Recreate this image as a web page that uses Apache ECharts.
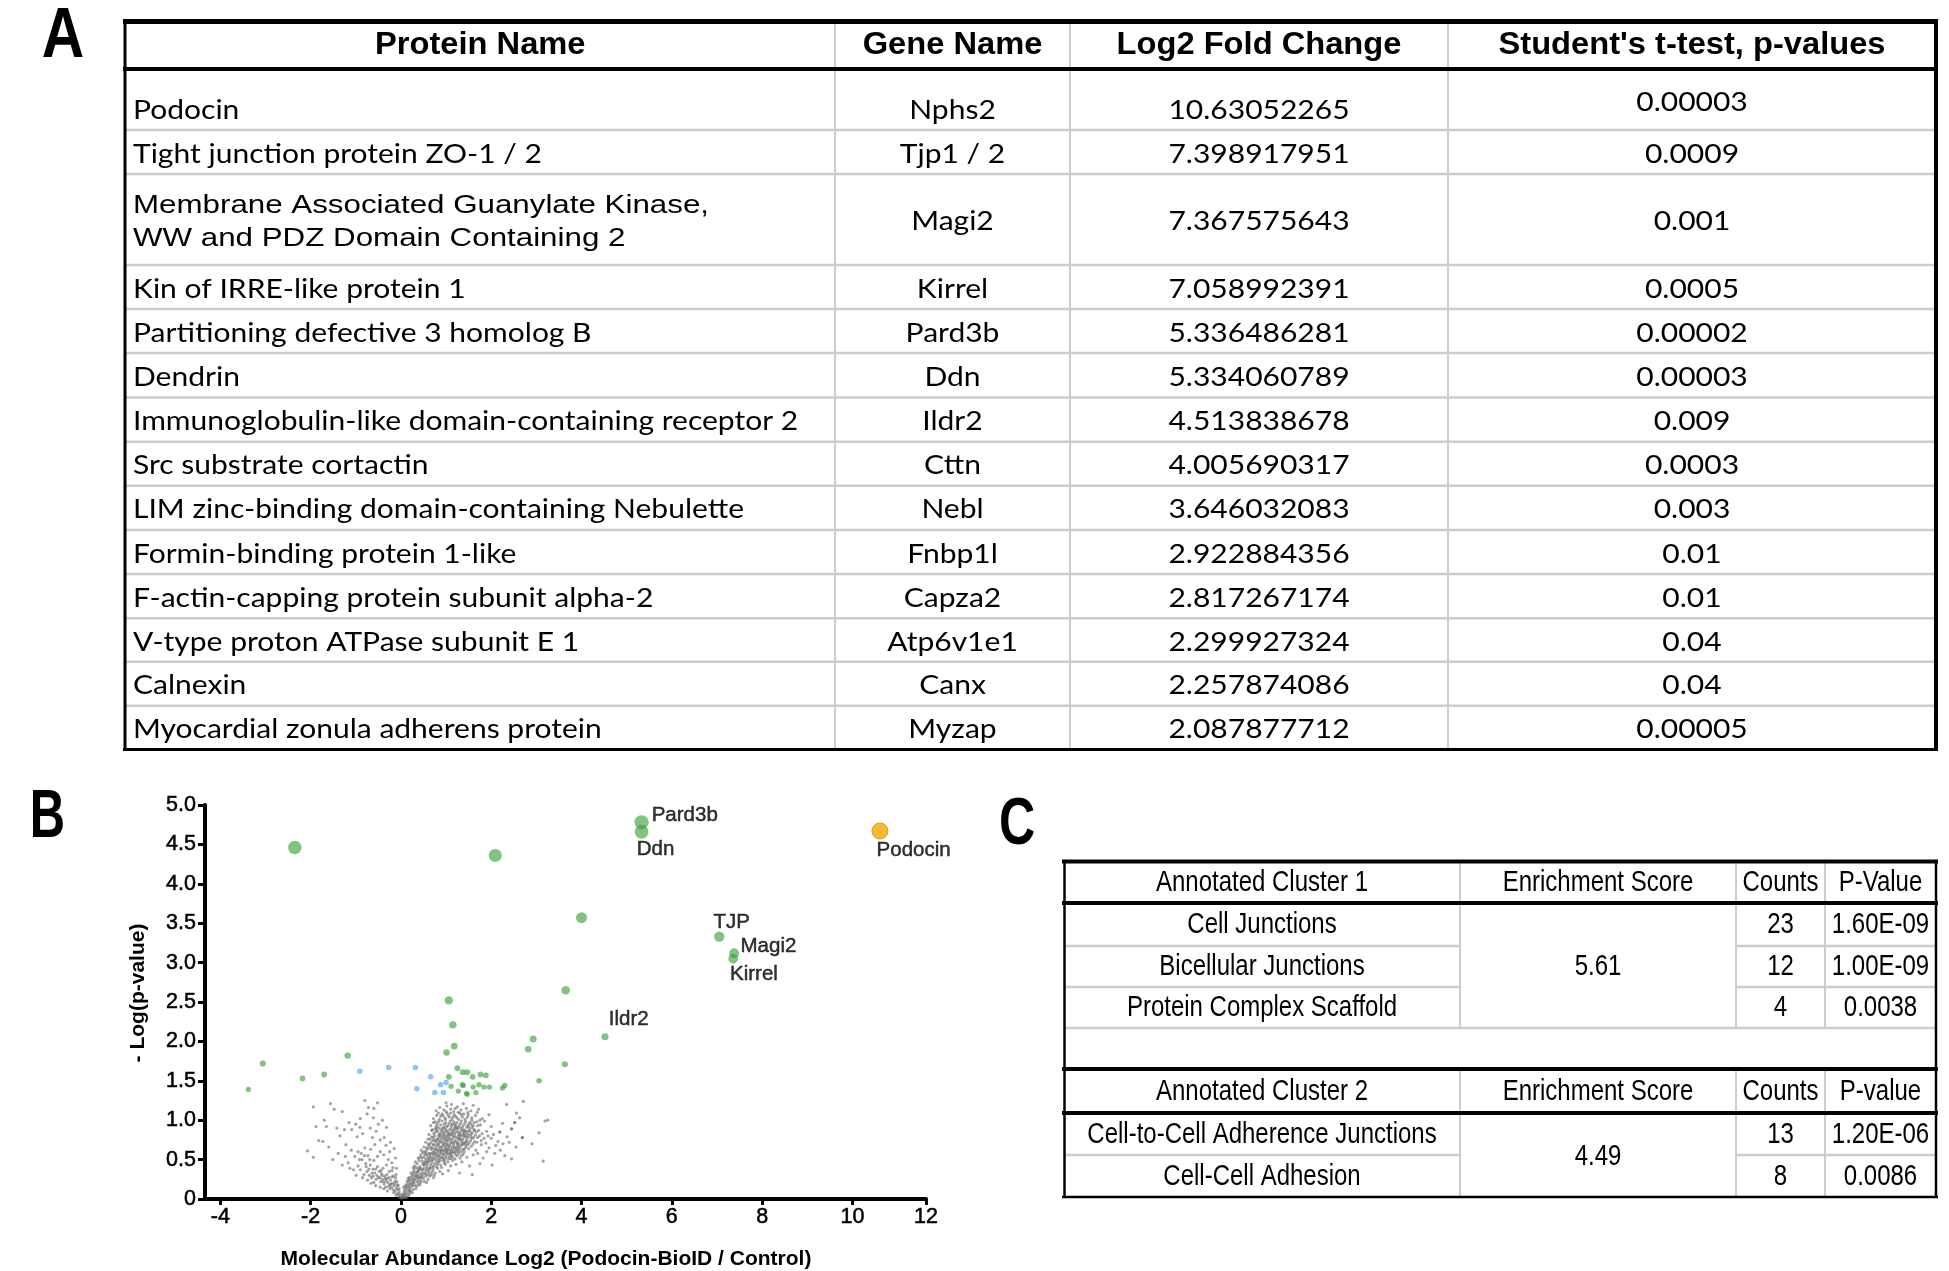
<!DOCTYPE html>
<html>
<head>
<meta charset="utf-8">
<script src="https://cdn.jsdelivr.net/npm/echarts@6/dist/echarts.min.js"></script>
<style>
  html, body { margin: 0; padding: 0; background: #fff; }
  #main { width: 1949px; height: 1271px; }
</style>
</head>
<body>
<div id="main"></div>
<script>
// ---- panel A : table data ----
const proteinNames = [
  'Podocin',
  'Tight junction protein ZO-1 / 2',
  'Membrane Associated Guanylate Kinase,\nWW and PDZ Domain Containing 2',
  'Kin of IRRE-like protein 1',
  'Partitioning defective 3 homolog B',
  'Dendrin',
  'Immunoglobulin-like domain-containing receptor 2',
  'Src substrate cortactin',
  'LIM zinc-binding domain-containing Nebulette',
  'Formin-binding protein 1-like',
  'F-actin-capping protein subunit alpha-2',
  'V-type proton ATPase subunit E 1',
  'Calnexin',
  'Myocardial zonula adherens protein'
];
const geneNames = ['Nphs2', 'Tjp1 / 2', 'Magi2', 'Kirrel', 'Pard3b', 'Ddn', 'Ildr2', 'Cttn', 'Nebl', 'Fnbp1l', 'Capza2', 'Atp6v1e1', 'Canx', 'Myzap'];
const foldChanges = ['10.63052265', '7.398917951', '7.367575643', '7.058992391', '5.336486281', '5.334060789', '4.513838678',
  '4.005690317', '3.646032083', '2.922884356', '2.817267174', '2.299927324', '2.257874086', '2.087877712'];
const pValues = ['0.00003', '0.0009', '0.001', '0.0005', '0.00002', '0.00003', '0.009', '0.0003', '0.003', '0.01', '0.01', '0.04', '0.04', '0.00005'];
const headerA = ['Protein Name', 'Gene Name', 'Log2 Fold Change', "Student's t-test, p-values"];

// ---- panel B : volcano plot data [log2 fold change, -log p] ----
const labelledNames = ['Pard3b', 'Ddn', 'TJP', 'Magi2', 'Kirrel', 'Ildr2'];
const labelledPts = [[5.33, 4.78], [5.33, 4.66], [7.05, 3.33], [7.38, 3.12], [7.36, 3.05], [4.52, 2.06]];
const podocinPt = [10.61, 4.67];
const greenPts = [
  [-2.35, 4.46], [2.09, 4.36], [4.0, 3.57], [3.65, 2.65], [-3.06, 1.72], [-3.38, 1.39], [-2.18, 1.53], [-1.70, 1.58],
  [-1.18, 1.82], [1.06, 2.52], [1.15, 2.21], [1.18, 1.94], [1.01, 1.86], [2.82, 1.90], [2.93, 2.03], [3.63, 1.71],
  [3.06, 1.50], [1.25, 1.66], [1.37, 1.61], [1.47, 1.61], [1.59, 1.55], [1.76, 1.58], [1.88, 1.57], [1.06, 1.55],
  [1.11, 1.43], [1.38, 1.44], [1.36, 1.45], [1.60, 1.42], [1.73, 1.45], [1.84, 1.42], [1.96, 1.42], [1.27, 1.37],
  [1.45, 1.34], [1.47, 1.33], [1.66, 1.35], [2.25, 1.41], [2.30, 1.44]
];
const bluePts = [[-0.91, 1.62], [-0.27, 1.67], [0.32, 1.67], [0.66, 1.55], [0.35, 1.40], [0.88, 1.45], [1.00, 1.48], [0.75, 1.35], [0.94, 1.35]];
const grayPts = [
  // right arm
  [0.02,0.01],[0.05,0.03],[0.08,0.02],[0.03,0.06],[0.11,0.05],[0.14,0.08],[0.07,0.09],[0.18,0.06],[0.12,0.02],[0.21,0.09],[0.16,0.04],[0.09,0.07],[0.25,0.08],[0.04,0.04],[0.19,0.1],[0.01,0.03],[0.06,0.05],
  [0.08,0.12],[0.13,0.14],[0.18,0.13],[0.22,0.15],[0.27,0.12],[0.31,0.17],[0.11,0.18],[0.16,0.19],[0.24,0.19],[0.35,0.16],[0.29,0.2],[0.2,0.11],[0.38,0.19],[0.42,0.18],[0.15,0.16],[0.26,0.17],[0.33,0.13],[0.06,0.15],[0.19,0.17],
  [0.14,0.22],[0.2,0.24],[0.26,0.21],[0.31,0.25],[0.36,0.22],[0.41,0.27],[0.45,0.23],[0.5,0.26],[0.55,0.29],[0.23,0.28],[0.33,0.29],[0.39,0.24],[0.47,0.28],[0.29,0.23],[0.6,0.25],[0.18,0.27],[0.43,0.21],[0.52,0.22],[0.64,0.29],[0.37,0.27],[0.27,0.26],[0.72,0.27],[0.57,0.21],
  [0.22,0.33],[0.28,0.36],[0.34,0.31],[0.39,0.35],[0.44,0.32],[0.49,0.37],[0.53,0.33],[0.58,0.38],[0.62,0.34],[0.67,0.31],[0.71,0.37],[0.76,0.33],[0.81,0.39],[0.86,0.35],[0.31,0.39],[0.41,0.38],[0.47,0.3],[0.56,0.36],[0.65,0.39],[0.74,0.3],[0.92,0.32],[0.6,0.31],[0.37,0.34],[0.51,0.39],[0.69,0.34],[1.05,0.36],[1.3,0.33],[1.58,0.31],
  [0.3,0.42],[0.36,0.45],[0.42,0.41],[0.47,0.48],[0.52,0.44],[0.57,0.41],[0.61,0.47],[0.66,0.43],[0.7,0.49],[0.75,0.45],[0.79,0.41],[0.84,0.47],[0.88,0.43],[0.93,0.49],[0.98,0.44],[1.04,0.47],[1.1,0.42],[0.4,0.49],[0.55,0.48],[0.64,0.4],[0.72,0.42],[0.81,0.44],[0.9,0.4],[0.96,0.46],[1.15,0.49],[1.22,0.44],[0.5,0.43],[0.68,0.46],[0.86,0.49],[1.35,0.47],[1.52,0.42],[1.75,0.45],[2.02,0.43],[2.45,0.51],
  [0.38,0.52],[0.44,0.56],[0.5,0.53],[0.55,0.58],[0.6,0.51],[0.65,0.57],[0.69,0.53],[0.74,0.59],[0.78,0.54],[0.83,0.51],[0.87,0.57],[0.91,0.53],[0.96,0.59],[1.0,0.55],[1.05,0.51],[1.09,0.57],[1.14,0.53],[1.19,0.59],[1.25,0.55],[1.31,0.52],[0.58,0.55],[0.72,0.56],[0.85,0.54],[0.94,0.52],[1.02,0.58],[1.12,0.55],[1.2,0.51],[0.48,0.59],[0.64,0.54],[0.8,0.58],[1.38,0.57],[1.46,0.53],[1.6,0.56],[1.82,0.52],[2.08,0.58],[2.3,0.55],[0.99,0.52],[1.28,0.58],
  [0.45,0.62],[0.51,0.66],[0.56,0.61],[0.62,0.68],[0.67,0.63],[0.72,0.69],[0.76,0.64],[0.81,0.61],[0.85,0.67],[0.9,0.62],[0.94,0.68],[0.99,0.64],[1.03,0.61],[1.08,0.67],[1.13,0.63],[1.17,0.69],[1.22,0.65],[1.27,0.61],[1.32,0.67],[1.37,0.63],[1.43,0.69],[1.5,0.64],[0.7,0.65],[0.88,0.65],[1.0,0.69],[1.11,0.6],[1.25,0.68],[1.4,0.6],[0.6,0.64],[0.79,0.67],[0.97,0.62],[1.19,0.63],[1.56,0.67],[1.66,0.62],[1.78,0.69],[1.95,0.65],[2.2,0.62],[2.55,0.66],[1.06,0.65],[1.3,0.64],
  [0.55,0.72],[0.6,0.76],[0.66,0.71],[0.71,0.78],[0.77,0.73],[0.82,0.77],[0.87,0.72],[0.92,0.79],[0.97,0.74],[1.02,0.71],[1.06,0.77],[1.11,0.73],[1.16,0.79],[1.2,0.74],[1.25,0.71],[1.3,0.77],[1.35,0.73],[1.4,0.79],[1.45,0.75],[1.51,0.71],[1.57,0.77],[1.63,0.73],[1.7,0.78],[0.74,0.75],[0.89,0.76],[1.04,0.74],[1.14,0.76],[1.28,0.75],[1.42,0.72],[1.6,0.7],[0.8,0.7],[0.95,0.77],[1.22,0.78],[1.37,0.76],[1.78,0.74],[1.88,0.71],[2.0,0.77],[2.15,0.73],[2.35,0.79],[2.69,0.78],[1.09,0.7],[1.48,0.78],
  [0.62,0.82],[0.68,0.87],[0.73,0.83],[0.79,0.88],[0.84,0.81],[0.9,0.86],[0.95,0.82],[1.0,0.88],[1.05,0.84],[1.1,0.81],[1.15,0.87],[1.2,0.83],[1.26,0.89],[1.31,0.84],[1.36,0.81],[1.41,0.87],[1.46,0.83],[1.52,0.89],[1.58,0.84],[1.65,0.81],[1.72,0.87],[1.8,0.83],[0.87,0.89],[1.03,0.81],[1.13,0.85],[1.23,0.86],[1.39,0.85],[1.55,0.82],[0.77,0.85],[0.98,0.85],[1.29,0.82],[1.49,0.86],[1.62,0.88],[1.9,0.86],[2.05,0.82],[2.19,0.85],[2.45,0.89],[3.06,0.84],[1.18,0.88],[0.93,0.84],
  [0.66,0.93],[0.72,0.97],[0.78,0.92],[0.83,0.98],[0.88,0.94],[0.94,0.91],[0.99,0.97],[1.04,0.93],[1.09,0.99],[1.14,0.95],[1.19,0.91],[1.24,0.97],[1.29,0.93],[1.34,0.99],[1.4,0.95],[1.46,0.91],[1.52,0.97],[1.6,0.93],[1.68,0.98],[0.91,0.99],[1.07,0.96],[1.21,0.93],[1.37,0.92],[1.55,0.95],[0.8,0.95],[1.01,0.92],[1.17,0.98],[1.32,0.96],[1.76,0.94],[1.85,0.99],[2.0,0.92],[2.25,0.96],[2.52,0.97],[3.19,0.99],[3.25,1.0],
  [0.72,1.02],[0.79,1.06],[0.85,1.01],[0.91,1.08],[0.97,1.03],[1.02,1.09],[1.07,1.04],[1.13,1.01],[1.18,1.07],[1.24,1.03],[1.3,1.09],[1.36,1.04],[1.42,1.01],[1.49,1.07],[1.57,1.03],[1.65,1.06],[0.88,1.05],[1.05,1.06],[1.21,1.05],[1.39,1.08],[1.8,1.02],[1.95,1.07],[2.56,1.09],[2.63,1.03],
  [0.78,1.12],[0.86,1.16],[0.95,1.13],[1.02,1.18],[1.1,1.14],[1.17,1.11],[1.25,1.17],[1.33,1.13],[1.45,1.15],[1.55,1.12],[1.0,1.22],[1.12,1.2],[1.38,1.21],[1.6,1.19],[2.34,1.2],[2.71,1.24],[1.72,1.14],
  [0.63,0.49],[0.77,0.5],[0.92,0.57],[1.07,0.54],[1.16,0.6],[0.84,0.63],[0.99,0.66],[1.14,0.66],[1.29,0.7],[1.44,0.66],[0.7,0.74],[0.85,0.79],[1.0,0.78],[1.12,0.82],[1.27,0.8],[1.42,0.81],[1.55,0.79],[0.82,0.91],[0.96,0.95],[1.11,0.9],[1.26,0.91],[1.43,0.98],[0.75,0.8],[0.9,0.73],[1.33,0.75],[1.48,0.69],[1.08,0.88],[1.2,0.95],[0.67,0.58],[0.53,0.46],[0.46,0.37],[0.35,0.28],[0.58,0.44],[0.74,0.52],[0.89,0.6],[1.03,0.63],[1.17,0.72],[1.34,0.87],[1.5,0.92],[0.96,0.71],[0.83,0.7],[1.25,0.63],[1.4,0.71],[0.61,0.7],[0.57,0.65],[0.52,0.6],[0.42,0.53],[0.32,0.47],[0.27,0.4],[0.25,0.31],[0.16,0.26],[1.63,0.87],[1.7,0.93],[1.57,1.0],[1.47,1.04],[1.28,1.01],[1.15,1.04],[0.99,1.01],[0.76,0.98],
  [3.15,0.48],[2.69,0.78],[2.45,0.89],[2.19,0.85],[2.52,0.97],
  [0.58,0.47],[0.63,0.52],[0.69,0.5],[0.73,0.61],[0.78,0.63],[0.82,0.55],[0.86,0.6],[0.91,0.66],[0.95,0.56],[1.01,0.6],[1.04,0.68],[1.09,0.62],[1.13,0.58],[1.18,0.66],[1.23,0.6],[1.27,0.66],[1.33,0.6],[1.36,0.69],[1.41,0.64],[1.46,0.73],
  [0.68,0.79],[0.73,0.69],[0.79,0.75],[0.84,0.74],[0.88,0.81],[0.93,0.7],[0.97,0.8],[1.01,0.75],[1.05,0.8],[1.09,0.76],[1.13,0.71],[1.18,0.8],[1.23,0.72],[1.27,0.77],[1.32,0.8],[1.36,0.7],[1.39,0.83],[1.44,0.79],[1.5,0.81],[1.54,0.74],
  [0.76,0.89],[0.81,0.86],[0.86,0.83],[0.92,0.88],[0.96,0.9],[1.02,0.86],[1.07,0.83],[1.12,0.93],[1.16,0.84],[1.22,0.9],[1.27,0.85],[1.33,0.9],[1.38,0.88],[1.44,0.86],[1.48,0.94],[1.53,0.86],[1.58,0.91],[1.67,0.85],
  [0.49,0.45],[0.55,0.51],[0.61,0.58],[0.66,0.66],[0.43,0.39],[0.38,0.37],[0.33,0.34],[0.29,0.29],[0.21,0.2],[0.24,0.24],[0.12,0.11],[0.1,0.16],[0.17,0.23],[0.28,0.33],[0.53,0.56],[0.71,0.59],[0.76,0.57],[0.88,0.52],[0.93,0.62],[1.06,0.58],
  [1.21,0.56],[1.34,0.55],[1.1,0.51],[0.97,0.49],[0.8,0.47],[0.71,0.4],[0.62,0.37],[0.55,0.32],[0.44,0.27],[0.48,0.33],[0.39,0.3],[1.0,1.11],[0.93,1.06],[1.1,1.09],[1.27,1.1],[1.34,1.07],[1.2,1.15],[0.83,1.09],[0.7,0.88],[0.64,0.76],
  [1.61,0.78],[1.68,0.72],[1.74,0.8],[1.84,0.77],[1.93,0.8],[2.1,0.68],[2.26,0.7],[1.7,0.58],[1.9,0.6],[2.4,0.72],[2.9,0.7],[0.46,0.52],[0.36,0.4],[1.62,0.97],[1.75,1.0],[1.48,1.1],[1.69,1.1],
  // left arm
  [-0.02,0.02],[-0.05,0.04],[-0.08,0.07],[-0.04,0.09],[-0.11,0.05],[-0.13,0.1],[-0.17,0.12],[-0.1,0.14],[-0.21,0.15],[-0.15,0.17],[-0.25,0.18],[-0.19,0.2],[-0.29,0.21],[-0.23,0.24],[-0.33,0.23],[-0.37,0.19],[-0.27,0.27],[-0.41,0.25],[-0.45,0.22],[-0.36,0.29],[-0.5,0.27],[-0.31,0.31],[-0.43,0.32],[-0.55,0.25],[-0.6,0.21],[-0.65,0.27],[-0.48,0.35],[-0.58,0.33],[-0.7,0.3],[-0.52,0.41],[-0.62,0.38],[-0.75,0.35],[-0.82,0.31],[-0.68,0.43],[-0.9,0.37],[-0.78,0.45],[-0.95,0.42],[-0.86,0.5],[-1.02,0.54],[-0.92,0.5],[-1.13,0.39],[-1.23,0.54],[-1.05,0.37],[-0.74,0.24],[-0.66,0.2],[-0.56,0.17],[-0.46,0.15],[-0.38,0.13],[-0.3,0.1],[-0.07,0.12],[-0.14,0.2],[-0.2,0.28],[-0.26,0.35],[-0.18,0.4],[-0.32,0.43],[-0.4,0.39],[-0.15,0.64],[-0.1,0.39],[-0.17,0.29],[-0.28,0.5],[-0.38,0.56],[-0.46,0.6],[-0.58,0.69],[-0.46,0.75],[-0.67,0.63],[-0.8,0.65],[-0.37,0.78],[-0.32,0.91],[-0.41,1.0],[-0.61,1.03],[-0.52,1.22],[-0.75,1.08],[-0.72,1.16],[-0.8,1.25],[-0.91,0.91],[-0.97,0.79],[-1.0,0.95],[-1.09,0.88],[-1.22,0.69],[-1.3,1.11],[-1.48,1.14],[-1.56,1.21],[-1.65,0.92],[-1.73,0.73],[-1.82,0.74],[-1.94,1.17],[-2.07,0.61],[-1.94,0.53],[-1.51,0.5],[-1.39,0.58],
  [-1.1,0.62],[-0.88,0.58],[-0.73,0.55],[-0.6,0.49],[-1.35,0.8],[-1.6,0.66],[-0.55,0.86],[-0.25,0.6],[-0.23,0.72],[-0.63,0.78],[-0.9,1.02],[-1.15,0.97],[-1.42,0.9],[-0.2,0.46],[-0.12,0.52],[-0.99,0.3],[-0.85,0.27],[-0.34,0.15],
  [-0.06,0.17],[-0.09,0.22],[-0.12,0.27],[-0.24,0.13],[-0.16,0.08],[-0.03,0.06],[-0.35,0.26],[-0.42,0.3],[-0.53,0.3],[-0.62,0.29],[-0.71,0.38],
  [-0.04,0.13],[-0.08,0.18],[-0.13,0.23],[-0.22,0.19],[-0.28,0.16],[-0.31,0.26],[-0.39,0.22],[-0.47,0.27],[-0.44,0.36],[-0.56,0.38],[-0.64,0.33],[-0.77,0.41],[-0.69,0.5],[-0.81,0.55],[-0.95,0.6],[-1.17,0.46],[-1.3,0.43],[-0.52,0.54],[-0.33,0.68],[-0.5,0.95],[-0.68,0.9],[-0.85,0.83],[-1.25,0.88],[-1.7,1.0],[-1.88,0.92],[-0.11,0.31],[-0.2,0.36],[-0.6,1.15]
];
const xTickPos = [-4, -2, 0, 2, 4, 6, 8, 10, 11.63];
const xTickLabels = ['-4', '-2', '0', '2', '4', '6', '8', '10', '12'];

// ---- panel C : enrichment clusters ----
const cluster1Terms = ['Cell Junctions', 'Bicellular Junctions', 'Protein Complex Scaffold'];
const cluster1Counts = [23, 12, 4];
const cluster1P = ['1.60E-09', '1.00E-09', '0.0038'];
const cluster1Score = '5.61';
const cluster2Terms = ['Cell-to-Cell Adherence Junctions', 'Cell-Cell Adhesion'];
const cluster2Counts = [13, 8];
const cluster2P = ['1.20E-06', '0.0086'];
const cluster2Score = '4.49';

// ---------- layout ----------
const ctx = document.createElement('canvas').getContext('2d');
function fit(sample, font, target) {
  ctx.font = font;
  return target / ctx.measureText(sample).width;
}
const FA_HEAD = 'bold 30.7px "Liberation Sans"';
const FA_BODY = '26.5px Lato';
const FA_ARIAL = '25.5px "Liberation Sans"';
const FC = '30px "Liberation Sans"';
const sHead = fit("Student's t-test, p-values", FA_HEAD, 387);
const sBody = fit('Tight junction protein ZO-1 / 2', FA_BODY, 409);
const sArial = fit('Membrane Associated Guanylate Kinase,', FA_ARIAL, 576);
const sC = fit('Annotated Cluster 1', FC, 212);

const els = [];
function txt(x, y, s, font, scale, align, extra) {
  els.push({
    type: 'text', x: x, y: y, scaleX: scale, silent: true, z: 20,
    style: Object.assign({
      text: s, font: font, fill: '#000',
      align: align || 'center', verticalAlign: 'middle',
      textAlign: align || 'center', textVerticalAlign: 'middle'
    }, extra || {})
  });
}
function line(x1, y1, x2, y2, w, c) {
  els.push({
    type: 'line', silent: true, z: 10,
    shape: {x1: x1, y1: y1, x2: x2, y2: y2},
    style: {stroke: c, lineWidth: w}
  });
}
const GRAY = '#cdcdcd';

// panel letters
txt(63, 38, 'A', 'bold 70px "Liberation Sans"', 0.84);
txt(47.5, 818, 'B', 'bold 68px "Liberation Sans"', 0.72);
txt(1017, 826, 'C', 'bold 66px "Liberation Sans"', 0.76);

// table A
const colA = [125.5, 835, 1070, 1448, 1936];
const rowA = [70, 130, 174, 265, 309, 353, 397.5, 441.7, 485.7, 530, 574, 618.3, 661.7, 705.7, 749.3];
for (let i = 1; i < 4; i++) line(colA[i], 21, colA[i], 749, 2, GRAY);
for (let i = 1; i < rowA.length - 1; i++) line(colA[0], rowA[i], colA[4], rowA[i], 2.5, GRAY);
line(123, 21.5, 1938, 21.5, 5, '#000');
line(123, 69, 1938, 69, 4, '#000');
line(125, 19, 125, 751, 3, '#000');
line(1936, 19, 1936, 751, 4, '#000');
line(123, 749.5, 1938, 749.5, 3, '#000');
headerA.forEach((h, i) => txt((colA[i] + colA[i + 1]) / 2, 46, h, FA_HEAD, sHead));
proteinNames.forEach((name, i) => {
  let yc = (rowA[i] + rowA[i + 1]) / 2 + 2;
  let yp = yc;
  if (i === 0) { yc = 110; yp = 102; }
  if (name.indexOf('\n') >= 0) {
    txt(133, yc + 1, name, FA_ARIAL, sArial, 'left', {lineHeight: 33});
  } else {
    txt(133, yc, name, FA_BODY, sBody, 'left');
  }
  txt((colA[1] + colA[2]) / 2, yc, geneNames[i], FA_BODY, sBody);
  txt((colA[2] + colA[3]) / 2, yc, foldChanges[i], FA_BODY, sBody);
  txt((colA[3] + colA[4]) / 2, yp, pValues[i], FA_BODY, sBody);
});

// table C
const colC = [1064, 1460, 1736, 1825, 1936];
const ccx = i => (colC[i] + colC[i + 1]) / 2;
[[861, 1028], [1069, 1197]].forEach(r => {
  for (let i = 1; i < 4; i++) line(colC[i], r[0], colC[i], r[1], 2, GRAY);
});
[946, 987, 1155].forEach(y => {
  line(colC[0], y, colC[1], y, 2.5, GRAY);
  line(colC[2], y, colC[4], y, 2.5, GRAY);
});
line(colC[0], 1028, colC[4], 1028, 2.5, GRAY);
line(1062, 861.5, 1938, 861.5, 4, '#000');
line(1062, 903, 1938, 903, 4, '#000');
line(1062, 1069, 1938, 1069, 4, '#000');
line(1062, 1113, 1938, 1113, 4, '#000');
line(1062, 1197, 1938, 1197, 2.5, '#000');
line(1064.5, 860, 1064.5, 1198, 2.5, '#000');
line(1936, 860, 1936, 1198, 2.5, '#000');
const header1 = ['Annotated Cluster 1', 'Enrichment Score', 'Counts', 'P-Value'];
const header2 = ['Annotated Cluster 2', 'Enrichment Score', 'Counts', 'P-value'];
header1.forEach((h, i) => txt(ccx(i), 883, h, FC, sC));
header2.forEach((h, i) => txt(ccx(i), 1092, h, FC, sC));
const rowsC1 = [925, 967, 1008];
cluster1Terms.forEach((t, i) => {
  txt(ccx(0), rowsC1[i], t, FC, sC);
  txt(ccx(2), rowsC1[i], String(cluster1Counts[i]), FC, sC);
  txt(ccx(3), rowsC1[i], cluster1P[i], FC, sC);
});
txt(ccx(1), 967, cluster1Score, FC, sC);
const rowsC2 = [1135, 1177];
cluster2Terms.forEach((t, i) => {
  txt(ccx(0), rowsC2[i], t, FC, sC);
  txt(ccx(2), rowsC2[i], String(cluster2Counts[i]), FC, sC);
  txt(ccx(3), rowsC2[i], cluster2P[i], FC, sC);
});
txt(ccx(1), 1157, cluster2Score, FC, sC);

// plot axis titles
txt(546, 1259, 'Molecular Abundance Log2 (Podocin-BioID / Control)', 'bold 21px "Liberation Sans"', 1);
els.push({
  type: 'text', x: 138, y: 993, rotation: Math.PI / 2, silent: true, z: 20,
  style: {text: '- Log(p-value)', font: 'bold 21px "Liberation Sans"', fill: '#000',
    align: 'center', verticalAlign: 'middle', textAlign: 'center', textVerticalAlign: 'middle'}
});

// ---------- volcano plot ----------
const sizeByP = v => 1.6 + 2.64 * v[1];
const labelCfg = [
  {position: 'right', distance: 3, offset: [0, -6.6]},
  {position: 'bottom', offset: [14, -4.6]},
  {position: 'top', offset: [12.5, 6]},
  {position: 'right', distance: 1.5, offset: [0, -6.6]},
  {position: 'bottom', offset: [20.7, -4.8]},
  {position: 'top', offset: [23.8, 2]}
];
const labelled = labelledPts.map((p, i) => ({
  value: p, name: labelledNames[i],
  label: Object.assign({show: true, formatter: '{b}'}, labelCfg[i])
}));
// a thin same-colour outline makes the Helvetica-like labels a bit heavier
const heavy = {color: '#000', fontFamily: 'Liberation Sans', textBorderColor: '#000', textBorderWidth: 0.5};
const ptLabel = Object.assign({fontSize: 20.5}, heavy);

const chart = echarts.init(document.getElementById('main'), null, {renderer: 'canvas'});
chart.setOption({
  backgroundColor: '#fff',
  animation: false,
  grid: {left: 205, top: 805, width: 721, height: 394},
  xAxis: {
    type: 'value', min: -4.34, max: 11.63,
    axisLine: {onZero: false, lineStyle: {color: '#000', width: 4}},
    axisTick: {customValues: xTickPos, length: 6, lineStyle: {color: '#000', width: 3}},
    axisLabel: Object.assign({
      customValues: xTickPos, margin: 7, fontSize: 21.5,
      formatter: v => xTickLabels[xTickPos.indexOf(v)]
    }, heavy),
    splitLine: {show: false}
  },
  yAxis: {
    type: 'value', min: 0, max: 5, interval: 0.5,
    axisLine: {show: true, onZero: false, lineStyle: {color: '#000', width: 4}},
    axisTick: {show: true, length: 7, lineStyle: {color: '#000', width: 3}},
    axisLabel: Object.assign({
      margin: 9, fontSize: 21.5,
      formatter: v => (v === 0 ? '0' : v.toFixed(1))
    }, heavy),
    splitLine: {show: false}
  },
  series: [
    {
      type: 'scatter', data: grayPts, symbolSize: 3.2, silent: true,
      itemStyle: {color: 'rgba(112,112,112,0.8)'}
    },
    {
      type: 'scatter', data: bluePts, symbolSize: 5.5, silent: true,
      itemStyle: {color: 'rgba(100,178,250,0.95)'}
    },
    {
      type: 'scatter', data: greenPts, symbolSize: sizeByP, silent: true,
      itemStyle: {color: 'rgba(60,160,60,0.8)'}
    },
    {
      type: 'scatter', data: labelled, symbolSize: sizeByP, silent: true,
      itemStyle: {color: 'rgba(60,160,60,0.8)'},
      label: ptLabel
    },
    {
      type: 'scatter', silent: true, symbolSize: 16,
      data: [{value: podocinPt, name: 'Podocin'}],
      itemStyle: {color: '#f6a800', borderColor: '#d98e00', borderWidth: 1},
      label: Object.assign({show: true, formatter: '{b}', position: 'bottom', offset: [33.7, -4.7]}, ptLabel)
    }
  ],
  graphic: {elements: els}
});
</script>
</body>
</html>
